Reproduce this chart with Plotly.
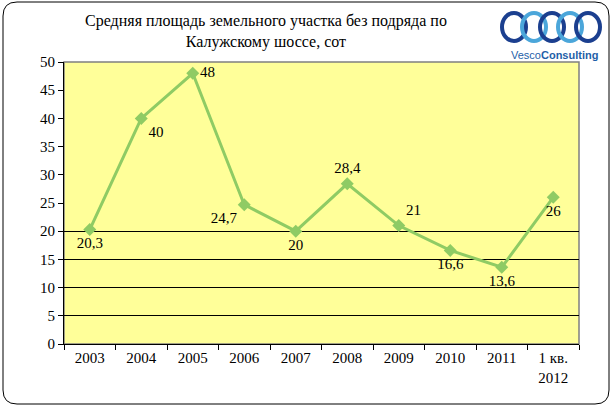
import plotly.graph_objects as go

categories = ["2003", "2004", "2005", "2006", "2007", "2008", "2009", "2010", "2011", "1 кв.<br>2012"]
values = [20.3, 40, 48, 24.7, 20, 28.4, 21, 16.6, 13.6, 26]
labels = ["20,3", "40", "48", "24,7", "20", "28,4", "21", "16,6", "13,6", "26"]
label_pos = ["bottom center", "bottom right", "middle right", "bottom left", "bottom center",
             "top center", "top right", "bottom center", "bottom center", "bottom center"]
y_ticks = [0, 5, 10, 15, 20, 25, 30, 35, 40, 45, 50]
grid_vals = [5, 10, 15, 20]

title = "Средняя площадь земельного участка без подряда по<br>Калужскому шоссе, сот"

W, H = 613, 406
L, R, T, B = 64, 579, 62, 344
PW, PH = R - L, B - T

def px(xp):
    return (xp - L) / PW

def py(yp):
    return (B - yp) / PH

SERIF = "Liberation Serif, DejaVu Serif"
GREEN = "#8FCB64"

fig = go.Figure()
fig.add_trace(go.Scatter(
    x=categories, y=values, mode="lines+markers+text",
    line=dict(color=GREEN, width=3),
    marker=dict(symbol="diamond", size=10, color=GREEN),
    text=labels, textposition=label_pos,
    textfont=dict(family=SERIF, size=15, color="black"),
    cliponaxis=False, showlegend=False,
))
fig.add_trace(go.Scatter(x=categories, y=values, yaxis="y2", mode="none",
                         showlegend=False, hoverinfo="skip"))

x0, x1, y0, y1 = px(3), px(609), py(404), py(2)
rx, ry = 14 / PW, 14 / PH
path = (f"M {x0+rx},{y1} L {x1-rx},{y1} Q {x1},{y1} {x1},{y1-ry} "
        f"L {x1},{y0+ry} Q {x1},{y0} {x1-rx},{y0} L {x0+rx},{y0} "
        f"Q {x0},{y0} {x0},{y0+ry} L {x0},{y1-ry} Q {x0},{y1} {x0+rx},{y1} Z")
shapes = [
    dict(type="path", path=path, xref="paper", yref="paper",
         line=dict(color="black", width=1), layer="below"),
    dict(type="rect", xref="paper", yref="paper", x0=0, x1=1, y0=0, y1=1,
         line=dict(color="#808080", width=1.5), layer="below"),
]
ring_specs = [(514, "#1B3F8F"), (534, "#4BA6DA"), (552, "#1B3F8F"), (570, "#4BA6DA"), (588, "#1B3F8F")]
for cx, col in ring_specs:
    shapes.append(dict(type="circle", xref="paper", yref="paper",
                       x0=px(cx - 12), x1=px(cx + 12), y0=py(41), y1=py(13),
                       line=dict(color=col, width=4)))

fig.update_layout(
    width=W, height=H,
    margin=dict(l=L, r=W - R, t=T, b=H - B),
    paper_bgcolor="white",
    plot_bgcolor="#FFFF99",
    xaxis=dict(type="category", tickson="boundaries", ticks="outside", ticklen=5,
               tickcolor="black", showline=True, linecolor="black", linewidth=1,
               showgrid=False, tickfont=dict(family=SERIF, size=15, color="black"),
               range=[-0.5, 9.5]),
    yaxis=dict(range=[0, 50], tickvals=y_ticks, ticks="outside", ticklen=5,
               tickcolor="black", showline=True, linecolor="black", linewidth=1,
               showgrid=False, zeroline=False,
               tickfont=dict(family=SERIF, size=15, color="black")),
    yaxis2=dict(range=[0, 50], overlaying="y", tickvals=grid_vals, showgrid=True,
                gridcolor="black", gridwidth=1, showticklabels=False, ticks="",
                zeroline=False, showline=False),
    shapes=shapes,
    annotations=[
        dict(text=title, xref="paper", yref="paper", x=px(266), y=py(32),
             xanchor="center", yanchor="middle", showarrow=False,
             font=dict(family=SERIF, size=16, color="black")),
        dict(text="Vesco<b>Consulting</b>", xref="paper", yref="paper",
             x=px(554), y=py(55), xanchor="center", yanchor="middle",
             showarrow=False,
             font=dict(family="Liberation Sans, Arial, sans-serif", size=11,
                       color="#1F5FA8")),
    ],
)

fig.write_html("out.html")
